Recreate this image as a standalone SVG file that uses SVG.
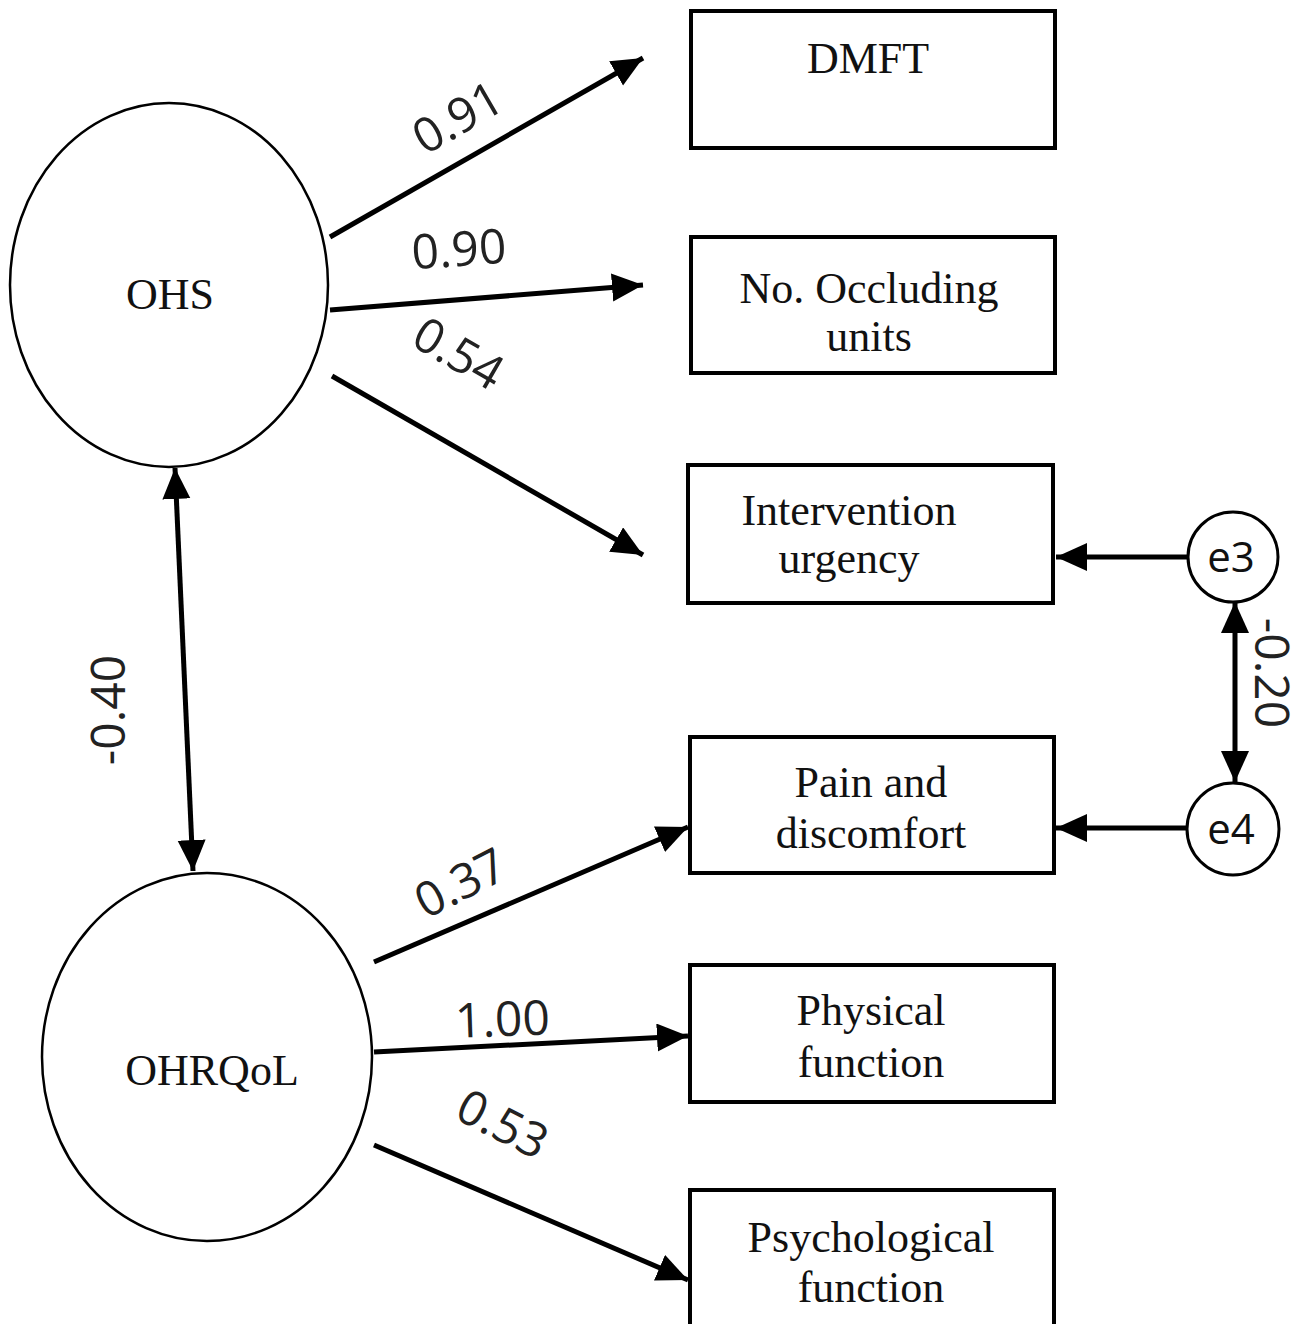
<svg xmlns="http://www.w3.org/2000/svg" width="1304" height="1324" viewBox="0 0 1304 1324">
<defs>
<marker id="ah" markerUnits="userSpaceOnUse" markerWidth="34" markerHeight="30" refX="31" refY="14" orient="auto-start-reverse">
<path d="M0,0 L31,14 L0,28 Z" fill="#000"/>
</marker>
<style>
.lat{fill:#fff;stroke:#000;stroke-width:2.5}
.box{fill:#fff;stroke:#000;stroke-width:4}
.err{fill:#fff;stroke:#000;stroke-width:3}
.serif{font-family:"Liberation Serif","Times New Roman",serif;font-size:44px;fill:#111;text-anchor:middle}
.lbl{font-family:"Open Sans","DejaVu Sans",sans-serif;font-size:48px;fill:#222;text-anchor:middle}
.elbl{font-family:"Open Sans","DejaVu Sans",sans-serif;font-size:42px;fill:#111;text-anchor:middle}
.c{stroke:#000;stroke-width:5;fill:none}
.one{marker-end:url(#ah)}
.two{marker-start:url(#ah);marker-end:url(#ah)}
</style>
</defs>
<rect width="1304" height="1324" fill="#fff"/>

<g id="connectors">
<line class="c one" x1="330" y1="237" x2="643" y2="58"/>
<line class="c one" x1="330" y1="310" x2="643" y2="285"/>
<line class="c one" x1="332" y1="376" x2="643" y2="555"/>
<line class="c two" x1="175" y1="468" x2="193" y2="871"/>
<line class="c one" x1="374" y1="962" x2="688" y2="827"/>
<line class="c one" x1="374" y1="1052" x2="688" y2="1036"/>
<line class="c one" x1="374" y1="1145" x2="688" y2="1280"/>
<line class="c one" x1="1188" y1="557" x2="1056" y2="557"/>
<line class="c one" x1="1188" y1="828" x2="1056" y2="828"/>
<line class="c two" x1="1235" y1="602" x2="1235" y2="782"/>
<text class="lbl" transform="translate(466,132) rotate(-30)">0.91</text>
<text class="lbl" transform="translate(460,266) rotate(-4)">0.90</text>
<text class="lbl" transform="translate(450,368) rotate(30)">0.54</text>
<text class="lbl" transform="translate(468,898) rotate(-27)">0.37</text>
<text class="lbl" transform="translate(503,1036) rotate(-2)">1.00</text>
<text class="lbl" transform="translate(495,1139) rotate(27)">0.53</text>
<text class="lbl" transform="translate(125,710) rotate(-90)">-0.40</text>
<text class="lbl" transform="translate(1255,673) rotate(90)">-0.20</text>
</g>

<g id="OHS">
<ellipse class="lat" cx="169" cy="285" rx="159" ry="182"/>
<text class="serif" x="170" y="309">OHS</text>
</g>
<g id="OHRQoL">
<ellipse class="lat" cx="207" cy="1057" rx="165" ry="184"/>
<text class="serif" x="212" y="1085">OHRQoL</text>
</g>

<g id="DMFT">
<rect class="box" x="691" y="11" width="364" height="137"/>
<text class="serif" x="868" y="73">DMFT</text>
</g>
<g id="Occluding">
<rect class="box" x="691" y="237" width="364" height="136"/>
<text class="serif" x="869" y="303">No. Occluding</text>
<text class="serif" x="869" y="351">units</text>
</g>
<g id="Intervention">
<rect class="box" x="688" y="465" width="365" height="138"/>
<text class="serif" x="849" y="525">Intervention</text>
<text class="serif" x="849" y="573">urgency</text>
</g>
<g id="Pain">
<rect class="box" x="690" y="737" width="364" height="136"/>
<text class="serif" x="871" y="797">Pain and</text>
<text class="serif" x="871" y="848">discomfort</text>
</g>
<g id="Physical">
<rect class="box" x="690" y="965" width="364" height="137"/>
<text class="serif" x="871" y="1025">Physical</text>
<text class="serif" x="871" y="1077">function</text>
</g>
<g id="Psychological">
<rect class="box" x="690" y="1190" width="364" height="145"/>
<text class="serif" x="871" y="1252">Psychological</text>
<text class="serif" x="871" y="1302">function</text>
</g>

<g id="e3">
<circle class="err" cx="1233" cy="557" r="45"/>
<text class="elbl" x="1231" y="572">e3</text>
</g>
<g id="e4">
<circle class="err" cx="1233" cy="829" r="46"/>
<text class="elbl" x="1231" y="844">e4</text>
</g>
</svg>
